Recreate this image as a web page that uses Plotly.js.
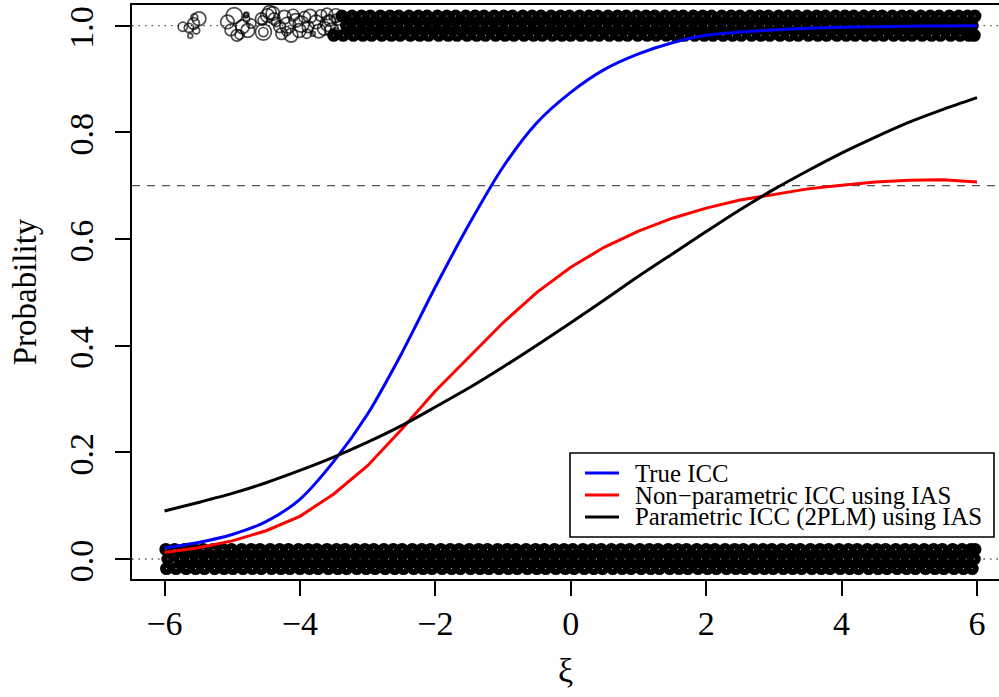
<!DOCTYPE html>
<html>
<head>
<meta charset="utf-8">
<script src="https://cdn.plot.ly/plotly-3.0.1.min.js"></script>
<style>
  html, body { margin: 0; padding: 0; background: #fff; }
  #chart { width: 999px; height: 697px; }
</style>
</head>
<body>
<div id="chart"></div>
<script>
// ξ grid on which the item characteristic curves are evaluated
const xi = [-6, -5.5, -5, -4.5, -4, -3.5, -3, -2.5, -2, -1.5, -1, -0.5, 0,
            0.5, 1, 1.5, 2, 2.5, 3, 3.5, 4, 4.5, 5, 5.5, 6];

// True ICC
const trueICC = [0.021, 0.031, 0.046, 0.070, 0.112, 0.183, 0.272, 0.385, 0.510, 0.628,
                 0.735, 0.818, 0.875, 0.918, 0.947, 0.968, 0.982, 0.988, 0.992, 0.995,
                 0.997, 0.998, 0.999, 0.9995, 1.0];
// Non-parametric ICC using IAS
const nonparICC = [0.012, 0.021, 0.034, 0.053, 0.080, 0.122, 0.175, 0.243, 0.315, 0.380,
                   0.443, 0.500, 0.547, 0.585, 0.615, 0.639, 0.658, 0.673, 0.684, 0.694,
                   0.701, 0.707, 0.710, 0.711, 0.707];
// Parametric ICC (2PLM) using IAS
const paramICC = [0.090, 0.106, 0.123, 0.143, 0.166, 0.191, 0.219, 0.250, 0.285, 0.321,
                  0.360, 0.401, 0.443, 0.486, 0.530, 0.572, 0.614, 0.655, 0.693, 0.728,
                  0.761, 0.791, 0.819, 0.843, 0.865];

const seriesNames = ['True ICC', 'Non\u2212parametric ICC using IAS', 'Parametric ICC (2PLM) using IAS'];

// Correct responses (y near 1) at low ξ, with their weights
const lowX = [-5.73, -5.64, -5.57, -5.49, -5.53, -5.62, -5.56,
              -5.07, -5.02, -4.93, -4.85, -4.77, -4.79, -4.72, -4.80, -4.89, -4.97, -4.79,
              -4.54, -4.54, -4.48, -4.40, -4.35, -4.55, -4.57, -4.45, -4.38,
              -4.30, -4.27, -4.23, -4.20, -4.18, -4.13, -4.10, -4.06, -4.01, -3.98, -3.93,
              -3.90, -3.88, -3.85, -3.81, -3.76, -3.72, -3.69, -3.64, -3.60, -3.56, -3.49, -3.47,
              -3.58, -3.53, -3.44];
const lowY = [0.998, 0.996, 1.004, 1.013, 0.991, 0.981, 1.016,
              1.007, 0.992, 0.982, 0.998, 0.991, 1.013, 1.004, 1.019, 0.983, 1.019, 1.021,
              0.988, 0.988, 1.019, 1.023, 1.007, 1.010, 1.013, 1.025, 1.013,
              0.998, 0.985, 1.016, 0.990, 1.001, 0.982, 1.020, 1.010, 0.991, 1.003, 1.016,
              0.985, 0.998, 1.018, 0.985, 1.007, 0.990, 1.019, 0.995, 1.022, 1.010, 0.985, 1.019,
              1.004, 0.992, 1.012];
const lowW = [1.15, 1.15, 1.45, 1.7, 0.85, 0.6, 0.85,
              1.7, 1.45, 1.45, 1.7, 1.7, 0.85, 1.15, 0.6, 1.15, 2.0, 0.6,
              2.0, 1.15, 1.7, 1.7, 1.15, 1.15, 1.45, 1.7, 1.45,
              1.45, 1.45, 1.7, 1.15, 2.0, 1.7, 1.45, 1.7, 1.7, 2.0, 1.45,
              1.15, 1.45, 1.7, 0.6, 1.7, 1.7, 1.45, 1.7, 1.45, 1.45, 1.45, 1.7,
              2.0, 1.7, 1.45];

// Correct responses (y near 1) from ξ ≈ −3.5 upward, in three jitter rows
const corrLevels = [1.018, 1.0, 0.982];
const corrRowHi = [-3.38, -3.23, -3.09, -2.96, -2.81, -2.67, -2.54, -2.39, -2.25, -2.12, -1.97,
  -1.83, -1.70, -1.55, -1.41, -1.28, -1.13, -0.99, -0.86, -0.71, -0.57, -0.44, -0.29, -0.15, -0.02,
  0.13, 0.27, 0.40, 0.55, 0.69, 0.82, 0.97, 1.11, 1.24, 1.39, 1.53, 1.66, 1.81, 1.95, 2.08, 2.23,
  2.37, 2.50, 2.65, 2.79, 2.92, 3.07, 3.21, 3.34, 3.49, 3.63, 3.76, 3.91, 4.05, 4.18, 4.33, 4.47,
  4.60, 4.75, 4.89, 5.02, 5.17, 5.31, 5.44, 5.59, 5.73, 5.86, 5.97];
const corrRowMid = [-3.31, -3.16, -3.02, -2.89, -2.74, -2.60, -2.47, -2.32, -2.18, -2.05, -1.90,
  -1.76, -1.63, -1.48, -1.34, -1.21, -1.06, -0.92, -0.79, -0.64, -0.50, -0.37, -0.22, -0.08, 0.05,
  0.20, 0.34, 0.47, 0.62, 0.76, 0.89, 1.04, 1.18, 1.31, 1.46, 1.60, 1.73, 1.88, 2.02, 2.15, 2.30,
  2.44, 2.57, 2.72, 2.86, 2.99, 3.14, 3.28, 3.41, 3.56, 3.70, 3.83, 3.98, 4.12, 4.25, 4.40, 4.54,
  4.67, 4.82, 4.96, 5.09, 5.24, 5.38, 5.51, 5.66, 5.80, 5.93];
const corrRowLo = [-3.50, -3.36, -3.21, -3.07, -2.94, -2.79, -2.65, -2.52, -2.37, -2.23, -2.10, -1.95,
  -1.81, -1.68, -1.53, -1.39, -1.26, -1.11, -0.97, -0.84, -0.69, -0.55, -0.42, -0.27, -0.13, 0.00,
  0.15, 0.29, 0.42, 0.57, 0.71, 0.84, 0.99, 1.13, 1.26, 1.41, 1.55, 1.68, 1.83, 1.97, 2.10, 2.25,
  2.39, 2.52, 2.67, 2.81, 2.94, 3.09, 3.23, 3.36, 3.51, 3.65, 3.78, 3.93, 4.07, 4.20, 4.35, 4.49,
  4.62, 4.77, 4.91, 5.04, 5.19, 5.33, 5.46, 5.61, 5.75, 5.88, 5.96];

// Incorrect responses (y near 0), in three jitter rows
const wrongLevels = [0.018, 0.0, -0.018];
const wrongRowHi = [-5.98, -5.85, -5.70, -5.56, -5.43, -5.28, -5.14, -5.01, -4.86, -4.72, -4.59, -4.44,
  -4.30, -4.17, -4.02, -3.88, -3.75, -3.60, -3.46, -3.33, -3.18, -3.04, -2.91, -2.76, -2.62, -2.49,
  -2.34, -2.20, -2.07, -1.92, -1.78, -1.65, -1.50, -1.36, -1.23, -1.08, -0.94, -0.81, -0.66, -0.52,
  -0.39, -0.24, -0.10, 0.03, 0.18, 0.32, 0.45, 0.60, 0.74, 0.87, 1.02, 1.16, 1.29, 1.44, 1.58, 1.71,
  1.86, 2.00, 2.13, 2.28, 2.42, 2.55, 2.70, 2.84, 2.97, 3.12, 3.26, 3.39, 3.54, 3.68, 3.81, 3.96,
  4.10, 4.23, 4.38, 4.52, 4.65, 4.80, 4.94, 5.07, 5.22, 5.36, 5.49, 5.64, 5.78, 5.91, 5.97];
const wrongRowMid = [-5.95, -5.78, -5.63, -5.50, -5.35, -5.21, -5.08, -4.93, -4.79, -4.66, -4.51, -4.37,
  -4.24, -4.09, -3.95, -3.82, -3.67, -3.53, -3.40, -3.25, -3.11, -2.98, -2.83, -2.69, -2.56, -2.41,
  -2.27, -2.14, -1.99, -1.85, -1.72, -1.57, -1.43, -1.30, -1.15, -1.01, -0.88, -0.73, -0.59, -0.46,
  -0.31, -0.17, -0.04, 0.11, 0.25, 0.38, 0.53, 0.67, 0.80, 0.95, 1.09, 1.22, 1.37, 1.51, 1.64, 1.79,
  1.93, 2.06, 2.21, 2.35, 2.48, 2.63, 2.77, 2.90, 3.05, 3.19, 3.32, 3.47, 3.61, 3.74, 3.89, 4.03,
  4.16, 4.31, 4.45, 4.58, 4.73, 4.87, 5.00, 5.15, 5.29, 5.42, 5.57, 5.71, 5.84, 5.96];
const wrongRowLo = [-5.97, -5.83, -5.68, -5.54, -5.41, -5.26, -5.12, -4.99, -4.84, -4.70, -4.57, -4.42,
  -4.28, -4.15, -4.00, -3.86, -3.73, -3.58, -3.44, -3.31, -3.16, -3.02, -2.89, -2.74, -2.60, -2.47,
  -2.32, -2.18, -2.05, -1.90, -1.76, -1.63, -1.48, -1.34, -1.21, -1.06, -0.92, -0.79, -0.64, -0.50,
  -0.37, -0.22, -0.08, 0.05, 0.20, 0.34, 0.47, 0.62, 0.76, 0.89, 1.04, 1.18, 1.31, 1.46, 1.60, 1.73,
  1.88, 2.02, 2.15, 2.30, 2.44, 2.57, 2.72, 2.86, 2.99, 3.14, 3.28, 3.41, 3.56, 3.70, 3.83, 3.98,
  4.12, 4.25, 4.40, 4.54, 4.67, 4.82, 4.96, 5.09, 5.24, 5.38, 5.51, 5.66, 5.80, 5.93];

// Reference levels
const responseLevels = [0, 1];
const cutLevel = 0.7;

const xTicks = [-6, -4, -2, 0, 2, 4, 6];
const yTicks = [0, 0.2, 0.4, 0.6, 0.8, 1.0];
const yTickText = ['0.0', '0.2', '0.4', '0.6', '0.8', '1.0'];

// ---- build traces ----
function rowsToPoints(rows, levels) {
  const xs = [], ys = [];
  rows.forEach((row, i) => row.forEach(v => { xs.push(v); ys.push(levels[i]); }));
  return { xs, ys };
}
const corr = rowsToPoints([corrRowHi, corrRowMid, corrRowLo], corrLevels);
const wrong = rowsToPoints([wrongRowHi, wrongRowMid, wrongRowLo], wrongLevels);

// many overlapping open circles: heavy rings so the crowded bands read as solid
const crowdMarker = { symbol: 'circle-open', size: 7, color: '#000', line: { width: 6, color: '#000' } };

const traces = [
  { x: wrong.xs, y: wrong.ys, type: 'scatter', mode: 'markers', hoverinfo: 'skip', marker: crowdMarker },
  { x: corr.xs, y: corr.ys, type: 'scatter', mode: 'markers', hoverinfo: 'skip', marker: crowdMarker },
  { x: lowX, y: lowY, type: 'scatter', mode: 'markers', hoverinfo: 'skip',
    marker: { symbol: 'circle-open', size: lowW.map(w => 8 * w), color: '#000',
              line: { width: 1.7, color: '#000' } } },
  { x: xi, y: trueICC, name: seriesNames[0], type: 'scatter', mode: 'lines',
    line: { color: '#0000ff', width: 3, shape: 'spline', smoothing: 0.8 } },
  { x: xi, y: nonparICC, name: seriesNames[1], type: 'scatter', mode: 'lines',
    line: { color: '#ff0000', width: 3 } },
  { x: xi, y: paramICC, name: seriesNames[2], type: 'scatter', mode: 'lines',
    line: { color: '#000000', width: 3, shape: 'spline', smoothing: 0.8 } }
];

// ---- plot-area geometry (px) used for the boxed legend ----
const M = { l: 132, r: 0, t: 5, b: 118 };
const W = 999, H = 697;
const pw = W - M.l - M.r, ph = H - M.t - M.b;
const px = v => (v - M.l) / pw;
const py = v => (H - M.b - v) / ph;

const shapes = [];
responseLevels.forEach(lv => shapes.push({
  type: 'line', xref: 'paper', yref: 'y', x0: 0, x1: 1, y0: lv, y1: lv, layer: 'below',
  line: { color: '#555', width: 1.3, dash: '1.5px,5px' }
}));
shapes.push({
  type: 'line', xref: 'paper', yref: 'y', x0: 0, x1: 1, y0: cutLevel, y1: cutLevel, layer: 'below',
  line: { color: '#555', width: 1.3, dash: '8px,7px' }
});

// legend box
shapes.push({ type: 'rect', xref: 'paper', yref: 'paper', x0: px(570), x1: px(994), y0: py(537), y1: py(453),
  fillcolor: '#fff', line: { color: '#000', width: 1.6 }, layer: 'above' });
const legendColors = ['#0000ff', '#ff0000', '#000000'];
const legendRows = [473, 495, 517];
const annotations = [];
legendRows.forEach((r, i) => {
  shapes.push({ type: 'line', xref: 'paper', yref: 'paper', x0: px(585), x1: px(619), y0: py(r), y1: py(r),
    line: { color: legendColors[i], width: 3 }, layer: 'above' });
  annotations.push({ xref: 'paper', yref: 'paper', x: px(633), y: py(r), xanchor: 'left', yanchor: 'middle',
    text: seriesNames[i], showarrow: false, font: { size: 24.8, color: '#000' } });
});

const layout = {
  width: W, height: H,
  margin: M,
  paper_bgcolor: '#fff', plot_bgcolor: '#fff',
  showlegend: false,
  font: { family: '"Liberation Serif", "Times New Roman", Times, serif', size: 34, color: '#000' },
  xaxis: {
    range: [-6.48, 6.325], tickvals: xTicks, ticks: 'outside', ticklen: 15, tickwidth: 2,
    tickcolor: '#000', showline: true, linewidth: 2, linecolor: '#000', mirror: true,
    showgrid: false, zeroline: false, ticklabelstandoff: -2, ticklabeloverflow: 'allow',
    title: { text: 'ξ', font: { size: 34 }, standoff: 17 }
  },
  yaxis: {
    range: [-0.0375, 1.0388], tickvals: yTicks, ticktext: yTickText, tickangle: -90,
    ticks: 'outside', ticklen: 15, tickwidth: 2, tickcolor: '#000',
    showline: true, linewidth: 2, linecolor: '#000', showgrid: false, zeroline: false,
    ticklabelstandoff: 8, ticklabeloverflow: 'allow', ticklabelshift: 7,
    title: { text: 'Probability', font: { size: 33 }, standoff: 17 }
  },
  shapes: shapes,
  annotations: annotations
};

Plotly.newPlot('chart', traces, layout, { staticPlot: true, displayModeBar: false });
</script>
</body>
</html>
